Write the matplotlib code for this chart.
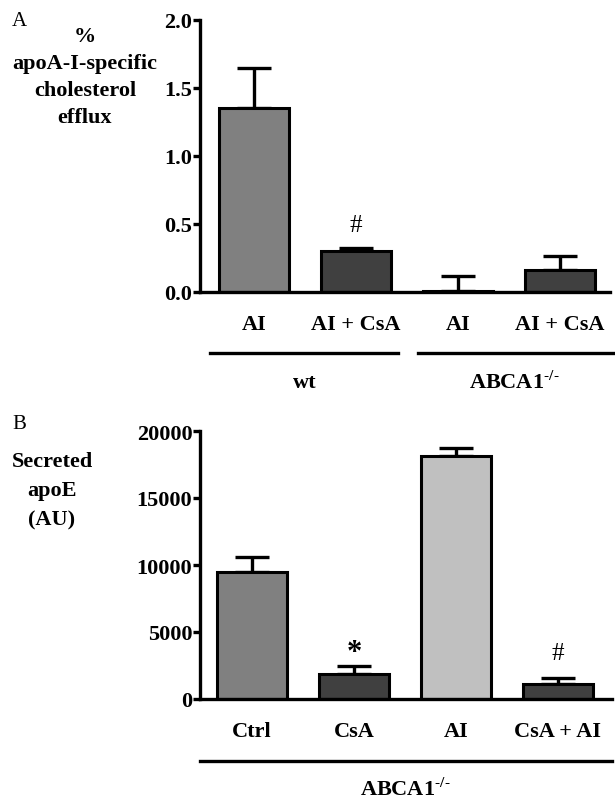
import numpy as np
import matplotlib
matplotlib.use("Agg")
import matplotlib.pyplot as plt

plt.rcParams['font.family'] = ['Liberation Serif', 'DejaVu Serif']
plt.rcParams['mathtext.fontset'] = 'stix'

# panel A data
a_labels = ["AI", "AI + CsA", "AI", "AI + CsA"]
a_means = [1.35, 0.30, 0.01, 0.16]
a_err = [0.30, 0.02, 0.11, 0.105]
a_colors = ["#808080", "#404040", "#404040", "#404040"]
a_ylabel = ["%", "apoA-I-specific", "cholesterol", "efflux"]

# panel B data
b_labels = ["Ctrl", "CsA", "AI", "CsA + AI"]
b_means = [9500, 1900, 18100, 1100]
b_err = [1100, 550, 600, 450]
b_colors = ["#808080", "#404040", "#c0c0c0", "#404040"]
b_ylabel = ["Secreted", "apoE", "(AU)"]

FS = 16

fig = plt.figure(figsize=(6.15, 8.03), dpi=100)
axA = fig.add_axes([200/615, 1-293/803, 410/615, 272/803])
axB = fig.add_axes([200/615, 1-700/803, 412/615, 268/803])


def style(ax, pad):
    for s in ["top", "right"]:
        ax.spines[s].set_visible(False)
    for s in ["left", "bottom"]:
        ax.spines[s].set_linewidth(2.4)
    ax.tick_params(axis='y', width=2.4, length=5, labelsize=FS, pad=0.5)
    ax.tick_params(axis='x', length=0, labelsize=FS, pad=pad)
    for t in ax.get_xticklabels() + ax.get_yticklabels():
        t.set_fontweight('bold')


def bars(ax, means, err, colors, labels):
    x = np.arange(len(means))
    ax.errorbar(x, means, yerr=[np.zeros(len(err)), err], fmt='none',
                ecolor='black', elinewidth=2.4, capsize=12, capthick=2.4, zorder=1)
    ax.bar(x, means, width=0.69, color=colors, edgecolor='black', linewidth=2.2, zorder=2)
    ax.set_xticks(x)
    ax.set_xticklabels(labels)


def group_label(ax, x, y, txt):
    tr = ax.get_xaxis_transform()
    return ax.text(x, y, txt, transform=tr, ha='center', va='center',
                   fontsize=FS, fontweight='bold')


def stacked_label(xpix, ypix_first, step, lines):
    # one text per line, stacked downward (pixel positions)
    for i, s in enumerate(lines):
        fig.text(xpix/615, 1-(ypix_first + i*step)/803, s, ha='center', va='center',
                 fontsize=FS, fontweight='bold')


# ---- panel A
bars(axA, a_means, a_err, a_colors, a_labels)
axA.set_ylim(0, 2.0)
axA.set_yticks([0.0, 0.5, 1.0, 1.5, 2.0])
axA.set_yticklabels(["0.0", "0.5", "1.0", "1.5", "2.0"])
axA.set_xlim(-0.53, 3.49)
style(axA, 16)
axA.text(1, 0.49, "#", ha='center', va='center', fontsize=18)
tr = axA.get_xaxis_transform()
axA.plot([-0.43, 1.41], [-0.224, -0.224], color='black', lw=2.4, transform=tr, clip_on=False)
axA.plot([1.61, 3.52], [-0.224, -0.224], color='black', lw=2.4, transform=tr, clip_on=False)
group_label(axA, 0.5, -0.33, "wt")
group_label(axA, 2.55, -0.33, r"ABCA1$^{\mathrm{‐/‐}}$")

# ---- panel B
bars(axB, b_means, b_err, b_colors, b_labels)
axB.set_ylim(0, 20000)
axB.set_yticks([0, 5000, 10000, 15000, 20000])
axB.set_xlim(-0.51, 3.53)
style(axB, 16)
axB.text(1, 3450, "*", ha='center', va='center', fontsize=22, fontweight='bold')
axB.text(3, 3400, "#", ha='center', va='center', fontsize=18)
tr = axB.get_xaxis_transform()
axB.plot([-0.51, 3.53], [-0.231, -0.231], color='black', lw=2.4, transform=tr, clip_on=False)
group_label(axB, 1.5, -0.334, r"ABCA1$^{\mathrm{‐/‐}}$")

# panel letters and y labels
fig.text(12/615, 1-22/803, "A", fontsize=15, va='center')
fig.text(12/615, 1-425/803, "B", fontsize=15, va='center')
stacked_label(85, 37, 27, a_ylabel)
stacked_label(52, 462, 29, b_ylabel)

fig.savefig("out.png", dpi=100)
